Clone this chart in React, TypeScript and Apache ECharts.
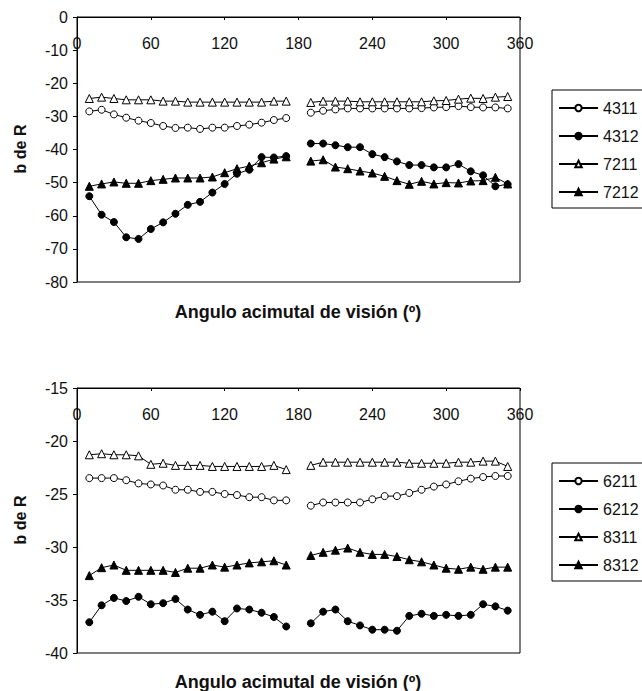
import React, { useEffect, useRef } from "react";
import * as echarts from "echarts";

// Viewing azimuth angles (degrees); no measurement at 180
const angles = [10, 20, 30, 40, 50, 60, 70, 80, 90, 100, 110, 120, 130, 140, 150, 160, 170,
  190, 200, 210, 220, 230, 240, 250, 260, 270, 280, 290, 300, 310, 320, 330, 340, 350];

// Top panel
const s4311 = [-28.5, -28.0, -29.4, -30.4, -31.3, -32.0, -32.9, -33.5, -33.4, -33.8, -33.4, -33.4, -32.9, -32.5, -31.9, -31.1, -30.5,
  -28.9, -28.3, -27.9, -27.6, -27.6, -27.6, -27.6, -27.6, -27.6, -27.5, -27.3, -27.2, -26.9, -27.2, -27.3, -27.3, -27.6];
const s4312 = [-54.1, -59.7, -61.9, -66.5, -67.0, -64.0, -62.0, -59.4, -56.7, -55.8, -53.0, -50.4, -47.3, -46.1, -42.3, -42.4, -42.0,
  -38.2, -38.2, -38.7, -39.3, -39.3, -41.4, -42.3, -43.6, -44.7, -44.7, -45.4, -45.4, -44.4, -46.6, -47.8, -51.1, -50.5];
const s7211 = [-24.6, -24.2, -24.6, -25.0, -25.0, -25.0, -25.4, -25.4, -25.7, -25.7, -25.7, -25.7, -25.7, -25.7, -25.7, -25.4, -25.4,
  -25.8, -25.4, -25.4, -25.4, -25.6, -25.6, -25.6, -25.6, -25.6, -25.6, -25.3, -25.2, -24.8, -24.5, -24.6, -24.2, -24.0];
const s7212 = [-51.1, -50.4, -49.8, -50.2, -50.2, -49.4, -49.0, -48.6, -48.6, -48.6, -48.3, -47.0, -45.8, -45.0, -44.0, -42.9, -42.2,
  -43.5, -43.1, -45.3, -45.8, -46.5, -47.1, -48.1, -49.4, -50.5, -49.6, -50.4, -50.0, -50.1, -49.5, -49.4, -48.4, -50.4];

// Bottom panel
const s6211 = [-23.5, -23.5, -23.5, -23.7, -24.0, -24.1, -24.2, -24.6, -24.6, -24.8, -24.8, -25.0, -25.1, -25.3, -25.3, -25.6, -25.6,
  -26.1, -25.8, -25.8, -25.8, -25.8, -25.5, -25.2, -25.2, -24.9, -24.6, -24.3, -24.1, -23.8, -23.55, -23.4, -23.3, -23.3];
const s6212 = [-37.1, -35.5, -34.8, -35.1, -34.7, -35.4, -35.3, -34.9, -35.9, -36.4, -36.1, -37.0, -35.8, -35.9, -36.2, -36.6, -37.5,
  -37.2, -36.1, -35.9, -37.0, -37.4, -37.8, -37.8, -37.9, -36.5, -36.3, -36.5, -36.4, -36.5, -36.4, -35.4, -35.6, -36.0];
const s8311 = [-21.3, -21.2, -21.3, -21.3, -21.4, -22.2, -22.1, -22.3, -22.3, -22.3, -22.4, -22.4, -22.4, -22.4, -22.4, -22.3, -22.7,
  -22.3, -22.0, -22.0, -22.0, -22.0, -22.0, -22.0, -22.0, -22.1, -22.1, -22.1, -22.1, -22.0, -22.0, -21.9, -21.9, -22.4];
const s8312 = [-32.7, -31.95, -31.7, -32.2, -32.2, -32.2, -32.2, -32.4, -32.0, -32.0, -31.7, -31.9, -31.7, -31.5, -31.4, -31.3, -31.7,
  -30.8, -30.5, -30.3, -30.1, -30.5, -30.7, -30.7, -30.9, -31.2, -31.4, -31.7, -32.0, -32.1, -31.9, -32.1, -31.9, -31.9];

const xTicks = { min: 0, max: 360, interval: 60 };
const topY = { min: -80, max: 0, interval: 10 };
const botY = { min: -40, max: -15, interval: 5 };

const FONT = "Liberation Sans, Arial, sans-serif";
const INK = "#111";

function buildData(vals: number[]) {
  const out: any[] = [];
  angles.forEach((a, i) => {
    if (a > 180 && angles[i - 1] < 180) out.push([180, "-"]);
    out.push([a, vals[i]]);
  });
  return out;
}

function makeSeries(name: string, vals: number[], idx: number, symbol: string, open: boolean) {
  return {
    name,
    type: "line",
    xAxisIndex: idx,
    yAxisIndex: idx,
    data: buildData(vals),
    symbol,
    symbolSize: symbol === "triangle" ? 8 : 7,
    connectNulls: false,
    lineStyle: { color: "#000", width: 1 },
    itemStyle: open
      ? { color: "#fff", borderColor: "#000", borderWidth: 1 }
      : { color: "#000", borderColor: "#000", borderWidth: 1 },
    emphasis: { disabled: true },
  };
}

export default function App() {
  const ref = useRef<HTMLDivElement>(null);
  useEffect(() => {
    if (!ref.current) return;
    const chart = echarts.init(ref.current, null, { renderer: "svg" });
    const grids = [
      { left: 77, top: 17, width: 443, height: 265 },
      { left: 77, top: 388, width: 443, height: 265 },
    ].map((g) => ({ ...g, show: true, borderColor: "#000", borderWidth: 1, backgroundColor: "transparent" }));

    const xAxis = [0, 1].map((i) => ({
      type: "value",
      gridIndex: i,
      position: "top",
      ...xTicks,
      axisLine: { show: true, onZero: false, lineStyle: { color: "#000", width: 1 } },
      axisTick: { show: true, inside: true, length: 3, lineStyle: { color: "#000" } },
      axisLabel: { inside: true, margin: 18, fontSize: 16, color: INK, fontFamily: FONT, showMinLabel: true, showMaxLabel: true },
      splitLine: { show: false },
    }));
    const yAxis = [topY, botY].map((y, i) => ({
      type: "value",
      gridIndex: i,
      ...y,
      axisLine: { show: true, onZero: false, lineStyle: { color: "#000", width: 1 } },
      axisTick: { show: true, length: 4, lineStyle: { color: "#000" } },
      axisLabel: { margin: 9, fontSize: 16, color: INK, fontFamily: FONT },
      splitLine: { show: false },
    }));

    const legendBase = {
      orient: "vertical",
      left: 552,
      itemWidth: 39,
      itemHeight: 8,
      itemGap: 12,
      padding: [10, 6, 8, 6],
      borderColor: "#000",
      borderWidth: 1,
      selectedMode: false,
      textStyle: { fontSize: 16, lineHeight: 16, color: INK, fontFamily: FONT },
    };

    const xTitleStyle = { fontSize: 18, fontWeight: "bold", fontFamily: FONT, fill: INK };
    const yTitleStyle = { fontSize: 16, fontWeight: "bold", fontFamily: FONT, fill: INK };

    chart.setOption({
      animation: false,
      grid: grids,
      xAxis,
      yAxis,
      legend: [
        { ...legendBase, top: 90, data: ["4311", "4312", "7211", "7212"] },
        { ...legendBase, top: 463, data: ["6211", "6212", "8311", "8312"] },
      ],
      series: [
        makeSeries("4311", s4311, 0, "circle", true),
        makeSeries("4312", s4312, 0, "circle", false),
        makeSeries("7211", s7211, 0, "triangle", true),
        makeSeries("7212", s7212, 0, "triangle", false),
        makeSeries("6211", s6211, 1, "circle", true),
        makeSeries("6212", s6212, 1, "circle", false),
        makeSeries("8311", s8311, 1, "triangle", true),
        makeSeries("8312", s8312, 1, "triangle", false),
      ],
      graphic: [
        { type: "text", x: 298, y: 312, style: { ...xTitleStyle, text: "Angulo acimutal de visión (º)", align: "center", verticalAlign: "middle" } },
        { type: "text", x: 298, y: 682, style: { ...xTitleStyle, text: "Angulo acimutal de visión (º)", align: "center", verticalAlign: "middle" } },
        { type: "text", x: 20, y: 149, rotation: Math.PI / 2, style: { ...yTitleStyle, text: "b de R", align: "center", verticalAlign: "middle" } },
        { type: "text", x: 20, y: 520, rotation: Math.PI / 2, style: { ...yTitleStyle, text: "b de R", align: "center", verticalAlign: "middle" } },
      ],
    });
    return () => chart.dispose();
  }, []);
  return <div ref={ref} style={{ width: 642, height: 691, position: "absolute", left: 0, top: 0, background: "#fff" }} />;
}
